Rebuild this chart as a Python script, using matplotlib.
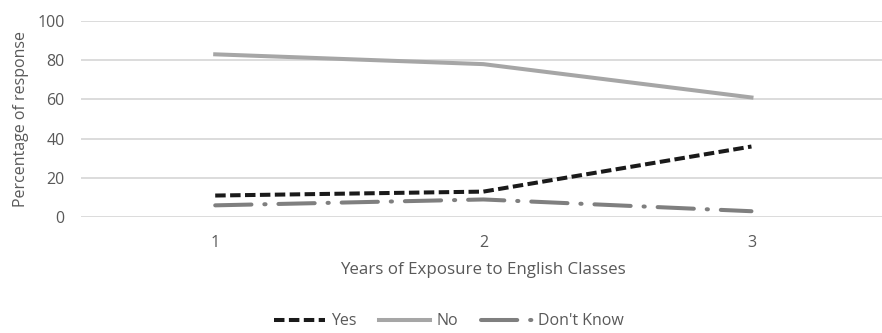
import matplotlib.pyplot as plt

plt.rcParams['font.family'] = ['Open Sans', 'DejaVu Sans']

# Data
years = [1, 2, 3]
yes = [11, 13, 36]
no = [83, 78, 61]
dont_know = [6, 9, 3]

fig = plt.figure(figsize=(8.82, 3.33), dpi=100)
ax = fig.add_axes([0.092, 0.348, 0.912, 0.589])

text_color = '#595959'

ax.plot(years, yes, color='#1a1a1a', lw=2.9, dashes=(2.6, 1.1), label='Yes')
ax.plot(years, no, color='#a6a6a6', lw=2.9, label='No')
ax.plot(years, dont_know, color='#7f7f7f', lw=2.9, dashes=(9, 3.2, 0.3, 3.2),
        dash_capstyle='round', label="Don't Know")

ax.set_xlim(0.5, 3.5)
ax.set_ylim(0, 100)
ax.set_xticks(years)
ax.set_yticks(range(0, 101, 20))
ax.grid(axis='y', color='#d9d9d9', lw=1.3)
ax.set_axisbelow(True)
for s in ax.spines.values():
    s.set_visible(False)
ax.tick_params(length=0, labelsize=11.5, colors=text_color, pad=12)
ax.tick_params(axis='x', pad=13)

ax.set_xlabel('Years of Exposure to English Classes', fontsize=12.2, color=text_color, labelpad=8)
ax.set_ylabel('Percentage of response', fontsize=11.5, color=text_color, labelpad=6)

fig.legend(loc='center', bbox_to_anchor=(0.509, 0.035), ncol=3, frameon=False,
           fontsize=11.5, labelcolor=text_color, handlelength=3.2,
           columnspacing=1.4, handletextpad=0.4)

fig.savefig('out.png', dpi=100)
